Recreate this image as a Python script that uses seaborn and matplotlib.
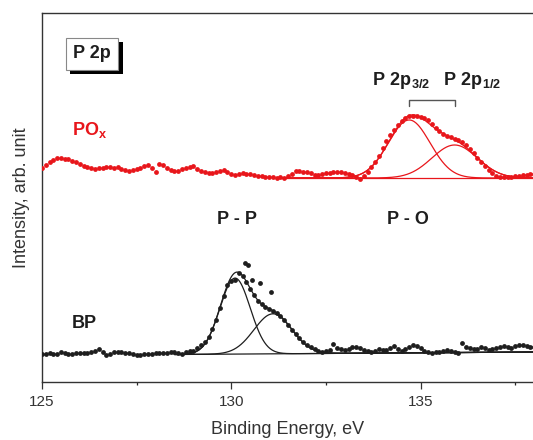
import numpy as np
import matplotlib
matplotlib.use("Agg")
import matplotlib.pyplot as plt
import matplotlib.patheffects as pe
from matplotlib.ticker import MultipleLocator
import seaborn as sns

# binding energy grid of the measured spectra (125.0 ... 138.0 eV, 0.1 eV steps)
energy = np.round(np.arange(1250, 1381) / 10, 1)

# PO_x spectrum (arb. units)
pox_counts = [
    214, 217, 220, 222, 224, 224, 223, 223, 221, 220,
    218, 216, 215, 214, 213, 214, 214, 215, 215, 214,
    215, 213, 212, 211, 212, 213, 214, 216, 217, 214,
    210, 218, 217, 214, 212, 211, 211, 213, 214, 215,
    216, 213, 211, 210, 209, 209, 210, 211, 212, 210,
    208, 207, 208, 209, 208, 208, 207, 206, 206, 205,
    205, 205, 204, 205, 204, 206, 208, 211, 211, 210,
    210, 209, 207, 207, 208, 209, 209, 210, 210, 210,
    209, 208, 207, 205, 203, 206, 210, 215, 220, 226,
    234, 241, 247, 252, 257, 261, 264, 266, 266, 266,
    265, 264, 262, 258, 254, 251, 248, 246, 245, 243,
    242, 240, 237, 233, 229, 224, 220, 216, 212, 209,
    206, 205, 205, 205, 205, 206, 206, 207, 207, 208,
    208,
]

# BP spectrum (arb. units)
bp_counts = [
    28, 28, 29, 28, 28, 30, 29, 28, 28, 29,
    29, 29, 29, 30, 31, 33, 30, 27, 28, 30,
    30, 30, 29, 29, 28, 27, 27, 28, 28, 28,
    29, 29, 29, 29, 30, 30, 29, 28, 30, 31,
    31, 34, 37, 40, 45, 53, 62, 74, 86, 97,
    101, 102, 109, 106, 100, 93, 87, 81, 78, 75,
    73, 71, 69, 66, 62, 57, 52, 48, 44, 40,
    37, 35, 33, 31, 30, 31, 32, 38, 34, 33,
    32, 33, 35, 35, 34, 32, 31, 30, 31, 33,
    32, 32, 34, 36, 33, 31, 33, 35, 37, 36,
    34, 31, 30, 29, 30, 30, 31, 32, 31, 30,
    29, 39, 35, 34, 33, 33, 35, 34, 32, 33,
    34, 35, 36, 35, 34, 36, 37, 37, 36, 35,
    35,
]
# scattered points above the BP envelope
bp_extra_energy = [130.35, 130.45, 130.55, 130.75, 131.05]
bp_extra_counts = [119, 117, 102, 99, 90]

# fitted components: centre (eV), height above background, sigma (eV)
pox_centres = [134.7, 135.9]
pox_heights = [58, 33]
pox_sigmas = [0.55, 0.6]
pox_background = [(131.3, 204), (138.0, 204)]

bp_centres = [130.1, 131.1]
bp_heights = [76, 40]
bp_sigmas = [0.4, 0.5]
bp_background = [(128.5, 27.5), (138.0, 30.0)]

red = "#e8161b"
dark = "#1e1e1e"

sns.set_theme(style="ticks")
plt.rcParams["font.family"] = ["Liberation Sans", "DejaVu Sans"]
plt.rcParams["mathtext.fontset"] = "custom"
plt.rcParams["mathtext.rm"] = "Liberation Sans"
plt.rcParams["mathtext.bf"] = "Liberation Sans:bold"

fig = plt.figure(figsize=(5.33, 4.4), dpi=100)
ax = fig.add_axes([0.0788, 0.1318, 0.9212, 0.8387])


def draw_spectrum(xs, ys, centres, heights, sigmas, background, colour):
    sns.scatterplot(x=xs, y=ys, ax=ax, s=12, color=colour, linewidth=0, zorder=3)
    (x0, y0), (x1, y1) = background
    x = np.linspace(x0, x1, 600)
    base = np.interp(x, [x0, x1], [y0, y1])
    peaks = [h * np.exp(-(x - c) ** 2 / (2 * s ** 2))
             for c, h, s in zip(centres, heights, sigmas)]
    curves = [base] + [base + p for p in peaks] + [base + sum(peaks)]
    for c in curves:
        sns.lineplot(x=x, y=c, ax=ax, color=colour, lw=0.9,
                     sort=False, estimator=None, zorder=2)


draw_spectrum(energy, pox_counts, pox_centres, pox_heights, pox_sigmas,
              pox_background, red)
draw_spectrum(np.concatenate([energy, bp_extra_energy]),
              np.concatenate([bp_counts, bp_extra_counts]),
              bp_centres, bp_heights, bp_sigmas, bp_background, dark)

# bracket joining the two spin-orbit components
c1, c2 = pox_centres
ax.plot([c1, c1, c2, c2], [276, 282, 282, 276], color="#555555", lw=1)

bold = dict(fontsize=13, fontweight="bold", color=dark)
ax.text(133.72, 297, r"$\mathbf{P\ 2p_{3/2}}$", ha="left", va="baseline", **bold)
ax.text(135.59, 297, r"$\mathbf{P\ 2p_{1/2}}$", ha="left", va="baseline", **bold)
ax.text(130.14, 162, "P - P", ha="center", va="center", **bold)
ax.text(134.66, 162, "P - O", ha="center", va="center", **bold)
ax.text(125.79, 54, "BP", ha="left", va="baseline", **bold)
ax.text(125.79, 247, r"$\mathbf{PO_x}$", ha="left", va="baseline",
        fontsize=13, color=red)

box = ax.text(126.32, 328, "P 2p", ha="center", va="center", **bold,
              bbox=dict(boxstyle="square,pad=0.42", fc="white", ec="#888888", lw=0.8))
box.get_bbox_patch().set_path_effects(
    [pe.withSimplePatchShadow(offset=(3, -3), shadow_rgbFace="black", alpha=1)])

ax.set_xlim(125, 137.97)
ax.set_ylim(0, 369)
ax.set_yticks([])
ax.xaxis.set_major_locator(MultipleLocator(5))
ax.xaxis.set_minor_locator(MultipleLocator(2.5))
ax.tick_params(axis="x", which="major", direction="out", length=5, width=0.9,
               labelsize=11, colors="#333333", pad=4)
ax.tick_params(axis="x", which="minor", direction="out", length=2.5, width=0.9)
for side in ["left", "bottom", "top"]:
    ax.spines[side].set_visible(True)
    ax.spines[side].set_color("#333333")
    ax.spines[side].set_linewidth(1)
ax.spines["right"].set_visible(False)

ax.set_xlabel("Binding Energy, eV", fontsize=13, color="#333333", labelpad=9)
ax.set_ylabel("Intensity, arb. unit", fontsize=13, color="#333333", labelpad=9)

fig.savefig("out.png", dpi=100)
